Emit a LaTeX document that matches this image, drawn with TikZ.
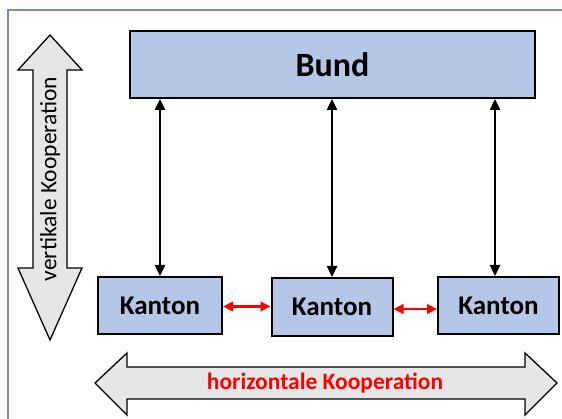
\documentclass[tikz,border=0pt]{standalone}
\usepackage{fontspec}
\setmainfont{Carlito}
\usetikzlibrary{arrows.meta}
\definecolor{boxfill}{HTML}{B4C7E7}
\definecolor{bigfill}{HTML}{E6E6E6}
\definecolor{framec}{RGB}{128,140,165}
\definecolor{redc}{HTML}{FF0000}
\begin{document}
\begin{tikzpicture}[x=1pt,y=-1pt,
  box/.style={draw=black,line width=2pt,fill=boxfill,inner sep=0pt,font=\bfseries},
  conn/.style={line width=2.4pt,{Triangle[width=10pt,length=11pt]}-{Triangle[width=10pt,length=11pt]}},
  hconn/.style={draw=redc,line width=2.2pt,{Triangle[width=9.5pt,length=10pt]}-{Triangle[width=9.5pt,length=10pt]}},
  bigarrow/.style={draw=black,line width=1.3pt,fill=bigfill,line join=miter}]
\useasboundingbox (0,0) rectangle (562,419);
\fill[white] (0,0) rectangle (562,419);
\draw[framec,line width=1.5pt] (8,419) -- (8,10) -- (562,10);
% boxes
\node[box,minimum width=405pt,minimum height=67pt,font=\bfseries\fontsize{34}{40}\selectfont] (bund) at (332.5,64.5) {Bund};
\node[box,minimum width=124pt,minimum height=57pt,font=\bfseries\fontsize{27}{32}\selectfont] (k1) at (160,305.5) {Kanton};
\node[box,minimum width=121pt,minimum height=58pt,font=\bfseries\fontsize{27}{32}\selectfont] (k2) at (332,307) {Kanton};
\node[box,minimum width=121pt,minimum height=57pt,font=\bfseries\fontsize{27}{32}\selectfont] (k3) at (498.5,305.5) {Kanton};
% vertical connectors
\draw[conn] (bund.south -| k1.north) -- (k1.north);
\draw[conn] (bund.south -| k2.north) -- (k2.north);
\draw[conn] ([xshift=-3.5pt]bund.south -| k3.north) -- ([xshift=-3.5pt]k3.north);
% horizontal red connectors
\draw[hconn] ([yshift=-1pt]k1.east) -- ([yshift=-1pt]k1.east -| k2.west);
\draw[hconn] ([yshift=-2pt]k2.east) -- ([yshift=-2pt]k2.east -| k3.west);
% vertical big arrow
\draw[bigarrow] (50,35) -- (82,70) -- (67,70) -- (67,268) -- (82,268) -- (50,340) -- (18,268) -- (33,268) -- (33,70) -- (18,70) -- cycle;
\node[rotate=90,font=\fontsize{23.5}{28}\selectfont] (vtext) at (50,179) {vertikale Kooperation};
% horizontal big arrow
\draw[bigarrow] (95,383) -- (127,353) -- (127,367) -- (525,367) -- (525,353) -- (557,383) -- (525,415) -- (525,399) -- (127,399) -- (127,415) -- cycle;
\node[text=redc,font=\bfseries\fontsize{23.5}{28}\selectfont] (htext) at (325,383) {horizontale Kooperation};
\end{tikzpicture}
\end{document}
